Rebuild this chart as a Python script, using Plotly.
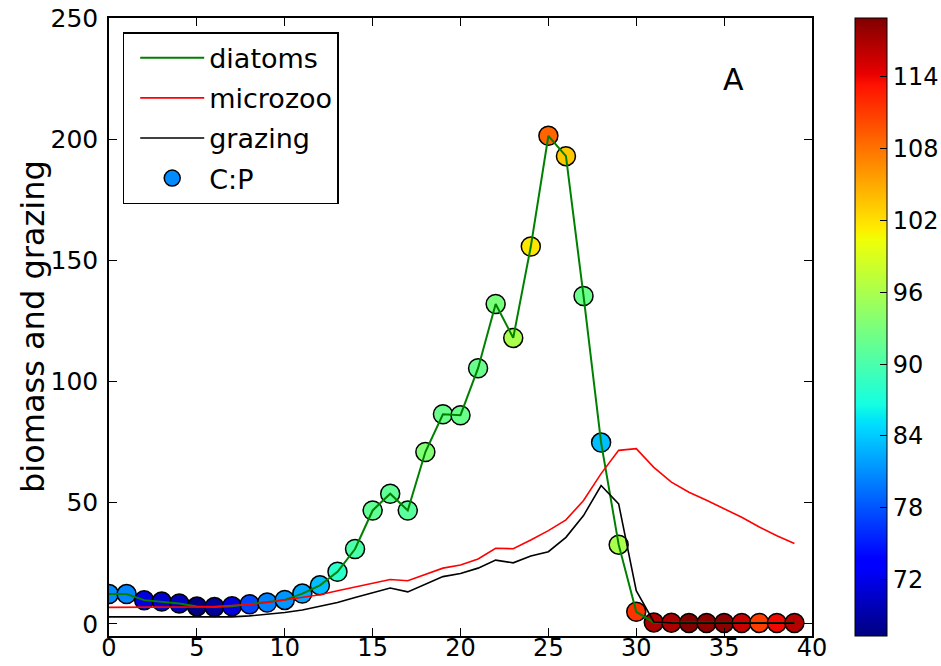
import numpy as np
import plotly.graph_objects as go

# Day index of the bloom experiment
days = [0, 1, 2, 3, 4, 5, 6, 7, 8, 9,
        10, 11, 12, 13, 14, 15, 16, 17, 18, 19,
        20, 21, 22, 23, 24, 25, 26, 27, 28, 29,
        30, 31, 32, 33, 34, 35, 36, 37, 38, 39]

# Diatom biomass
diatoms = [12.3, 12.3, 9.8, 9.2, 8.4, 7.2, 7.0, 7.3, 8.1, 8.8,
           9.9, 12.5, 15.9, 21.5, 30.9, 46.8, 53.7, 46.8, 70.9, 86.5,
           86.1, 105.5, 132.0, 118.0, 155.7, 201.4, 193.0, 135.3, 74.8, 32.7,
           5.0, 0.6, 0.5, 0.4, 0.4, 0.4, 0.4, 0.4, 0.4, 0.4]

# Microzooplankton biomass
microzoo = [6.8, 6.8, 6.9, 6.9, 7.0, 7.0, 7.2, 7.5, 8.0, 8.8,
            9.9, 10.9, 12.0, 13.7, 15.3, 16.7, 18.3, 17.8, 20.3, 23.0,
            24.3, 26.8, 31.2, 31.0, 34.6, 38.5, 42.9, 50.9, 62.0, 71.6,
            72.3, 64.6, 58.5, 54.3, 51.0, 47.5, 44.0, 40.0, 36.4, 33.2]

# Grazing rate
grazing = [2.9, 2.9, 2.8, 2.8, 2.7, 2.6, 2.7, 2.9, 3.3, 3.9,
           4.7, 5.7, 7.2, 8.8, 10.9, 13.0, 14.8, 13.2, 16.5, 19.5,
           20.8, 23.0, 26.3, 25.2, 28.0, 29.8, 35.7, 44.7, 57.1, 49.5,
           13.7, 0.8, 0.4, 0.3, 0.3, 0.3, 0.3, 0.3, 0.3, 0.3]

# Diatom C:P ratio (marker colour)
cp_ratio = [80.8, 80.5, 71.5, 71.0, 70.0, 67.3, 68.5, 71.5, 77.3, 80.3,
            81.3, 82.3, 83.4, 88.0, 90.1, 91.4, 91.4, 91.0, 93.5, 92.0,
            92.0, 92.0, 93.0, 96.0, 101.7, 108.8, 103.4, 92.0, 83.4, 96.0,
            111.5, 117.0, 117.0, 118.9, 118.3, 118.3, 115.7, 111.0, 113.8, 116.6]

cbar_ticks = [72, 78, 84, 90, 96, 102, 108, 114]


def jet_colorscale():
    """Piecewise-linear 'jet' colormap expressed as a Plotly colorscale."""
    red = [(0, 0), (0.35, 0), (0.66, 1), (0.89, 1), (1, 0.5)]
    green = [(0, 0), (0.125, 0), (0.375, 1), (0.64, 1), (0.91, 0), (1, 0)]
    blue = [(0, 0.5), (0.11, 1), (0.34, 1), (0.65, 0), (1, 0)]
    stops = sorted({p for seg in (red, green, blue) for p, _ in seg})
    scale = []
    for s in stops:
        rgb = [np.interp(s, [p for p, _ in seg], [v for _, v in seg])
               for seg in (red, green, blue)]
        scale.append([s, "rgb({},{},{})".format(*[int(round(255 * c)) for c in rgb])])
    return scale


FONT = "DejaVu Sans"

fig = go.Figure()

# C:P coloured markers drawn first so the lines sit on top of them
fig.add_trace(go.Scatter(
    x=days, y=diatoms, mode="markers", name="C:P",
    legendgroup="cp", legendrank=4,
    marker=dict(size=19, color=cp_ratio, colorscale=jet_colorscale(),
                cmin=min(cp_ratio), cmax=max(cp_ratio),
                line=dict(color="black", width=1.5),
                colorbar=dict(
                    x=1.0612, xanchor="left", xpad=0,
                    y=0.5, yanchor="middle", len=1, ypad=0,
                    thickness=32, outlinecolor="black", outlinewidth=1,
                    tickvals=cbar_ticks, ticks="inside", ticklen=7,
                    tickcolor="black", tickwidth=1,
                    tickfont=dict(family=FONT, size=24, color="black"),
                )),
))
fig.add_trace(go.Scatter(x=days, y=diatoms, mode="lines", name="diatoms",
                         legendgroup="dia", legendrank=1,
                         line=dict(color="#008000", width=2)))
fig.add_trace(go.Scatter(x=days, y=microzoo, mode="lines", name="microzoo",
                         legendgroup="mic", legendrank=2,
                         line=dict(color="#ff0000", width=1.6)))
fig.add_trace(go.Scatter(x=days, y=grazing, mode="lines", name="grazing",
                         legendgroup="gra", legendrank=3,
                         line=dict(color="black", width=1.6)))

axis_common = dict(
    showline=True, linecolor="black", linewidth=1.5, mirror="ticks",
    ticks="inside", ticklen=8, tickcolor="black", tickwidth=1,
    showgrid=False, zeroline=False,
)

fig.update_layout(
    width=941, height=666,
    margin=dict(l=109, r=129, t=18, b=30, autoexpand=False),
    paper_bgcolor="white", plot_bgcolor="white",
    xaxis=dict(range=[0, 40], tickvals=[0, 5, 10, 15, 20, 25, 30, 35, 40],
               ticklabelstandoff=-11,
               tickfont=dict(family=FONT, size=24, color="black"), **axis_common),
    yaxis=dict(range=[-5, 250], tickvals=[0, 50, 100, 150, 200, 250],
               ticklabelstandoff=4,
               tickfont=dict(family=FONT, size=25, color="black"), **axis_common),
    legend=dict(x=0.0195, y=0.977, xanchor="left", yanchor="top",
                bgcolor="white", bordercolor="black", borderwidth=1.5,
                font=dict(family=FONT, size=27, color="black"),
                tracegroupgap=2, itemwidth=64, indentation=11),
    annotations=[
        dict(text="biomass and grazing", textangle=-90, showarrow=False,
             xref="paper", yref="paper", x=-0.108, y=0.5,
             xanchor="center", yanchor="middle",
             font=dict(family=FONT, size=32, color="black")),
        dict(text="A", showarrow=False, xref="paper", yref="paper",
             x=0.888, y=0.9005, xanchor="center", yanchor="middle",
             font=dict(family=FONT, size=30, color="black")),
    ],
)

fig.write_html("out.html")
